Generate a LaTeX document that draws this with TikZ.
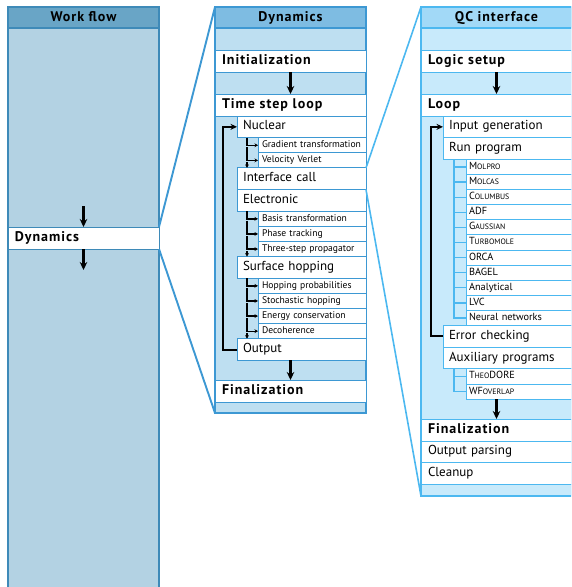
\documentclass[tikz,border=0pt]{standalone}
\usepackage{fontspec}
\setmainfont{PT Sans}
\newfontfamily\headfont{PT Sans}[LetterSpace=7]
\usetikzlibrary{arrows.meta}

% panel colours: work flow, dynamics, QC interface
\definecolor{wfline}{HTML}{3E8AB8}
\definecolor{wfhead}{HTML}{69A5C6}
\definecolor{wfbody}{HTML}{B3D2E3}
\definecolor{dyline}{HTML}{3D98D3}
\definecolor{dyhead}{HTML}{7EBCE2}
\definecolor{dybody}{HTML}{BEDFF1}
\definecolor{qcline}{HTML}{4CB8F0}
\definecolor{qchead}{HTML}{A2D9F7}
\definecolor{qcbody}{HTML}{C8EAFB}

% fake small capitals: first letter full size, rest smaller capitals
\newcommand\fsc[2]{#1{\fontsize{7.8}{9}\selectfont\MakeUppercase{#2}}}

\tikzset{
  panel/.style={draw=#1, line width=1.2pt, anchor=north west, outer sep=0pt,
    minimum width=151pt, inner sep=0pt},
  headrow/.style={panel=#1, minimum height=21pt, text height=10pt, text depth=2pt,
    font=\headfont\bfseries\fontsize{14}{16}\selectfont},
  row/.style={draw=#1, fill=white, anchor=north west, inner ysep=0pt,
    outer sep=0pt, align=left, line width=1pt},
  toprow/.style={row=#1, text width=137pt, inner xsep=7pt, minimum height=22pt,
    text height=10pt, text depth=3pt, font=\headfont\bfseries\fontsize{14}{16}\selectfont},
  plainrow/.style={row=#1, text width=137pt, inner xsep=7pt, minimum height=21.5pt,
    text height=9pt, text depth=3pt, font=\fontsize{13}{15}\selectfont},
  lvone/.style={row=#1, text width=117pt, inner xsep=6pt, minimum height=21.7pt,
    text height=9pt, text depth=3pt, font=\fontsize{13}{15}\selectfont},
  lvtwo/.style={row=#1, text width=100pt, inner xsep=4pt, minimum height=15.1pt,
    text height=6.8pt, text depth=2pt, font=\fontsize{9.6}{11}\selectfont},
  qcsub/.style={row=#1, text width=100pt, inner xsep=3pt, minimum height=15.1pt,
    text height=7pt, text depth=2pt, font=\fontsize{10.3}{12}\selectfont},
  flow/.style={draw=black, line width=2.1pt, -{Stealth[length=8pt,width=7.5pt]}},
  loopback/.style={draw=black, line width=2pt, -{Stealth[length=6.5pt,width=6pt]}},
  substep/.style={draw=black, line width=1.3pt, -{Stealth[length=3.5pt,width=3.8pt]}},
  bus/.style={draw=qcline, line width=1.3pt},
  zoomA/.style={draw=dyline, line width=1.9pt},
  zoomB/.style={draw=qcline, line width=1.6pt},
}

\begin{document}
\begin{tikzpicture}[x=1pt, y=-1pt]
\useasboundingbox (0,0) rectangle (571,587);
\clip (0,0) rectangle (571,587);

% ---------------- Work flow ----------------
\node[panel=wfline, fill=wfbody, minimum height=590pt] (wf) at (8,7) {};
\node[headrow=wfline, fill=wfhead] (wfh) at (8,7) {Work flow};
\node[toprow=wfline] (dyn) at (8,227) {Dynamics};
\coordinate (dynin) at ([yshift=21pt]dyn.north);
\coordinate (dynout) at ([yshift=-21pt]dyn.south);
\draw[flow] (dynin) -- (dyn.north);
\draw[flow] (dyn.south) -- (dynout);

% ---------------- Dynamics ----------------
\node[panel=dyline, fill=dybody, minimum height=406pt] (dy) at (215,7) {};
\node[headrow=dyline, fill=dyhead] (dyh) at (215,7) {Dynamics};
\node[toprow=dyline] (init) at (215,50) {Initialization};
\node[toprow=dyline] (tsl) at (215,94) {Time step loop};

\node[lvone=dyline] (nuc) at (237,116) {Nuclear};
\node[lvtwo=dyline] (grad) at ([xshift=21pt]nuc.south west) {Gradient transformation};
\node[lvtwo=dyline] (vv) at (grad.south west) {Velocity Verlet};
\node[lvone=dyline] (icall) at ([xshift=-21pt]vv.south west) {Interface call};
\node[lvone=dyline] (elec) at (icall.south west) {Electronic};
\node[lvtwo=dyline] (basis) at ([xshift=21pt]elec.south west) {Basis transformation};
\node[lvtwo=dyline] (phase) at (basis.south west) {Phase tracking};
\node[lvtwo=dyline] (three) at (phase.south west) {Three-step propagator};
\node[lvone=dyline] (surf) at ([xshift=-21pt]three.south west) {Surface hopping};
\node[lvtwo=dyline] (hop) at ([xshift=21pt]surf.south west) {Hopping probabilities};
\node[lvtwo=dyline] (stoch) at (hop.south west) {Stochastic hopping};
\node[lvtwo=dyline] (energy) at (stoch.south west) {Energy conservation};
\node[lvtwo=dyline] (decoh) at (energy.south west) {Decoherence};
\node[lvone=dyline] (output) at ([xshift=-21pt]decoh.south west) {Output};
\node[toprow=dyline] (dyfin) at (215,380) {Finalization};

\draw[flow] (init.south) -- (tsl.north);
\draw[flow] (dyfin.north |- output.south) -- (dyfin.north);
\draw[loopback] (output.west) -- ++(-14,0) |- (nuc.west);

% sub-step chains
\draw[substep] ([xshift=10pt]nuc.south west) |- (grad.west);
\draw[substep] ([xshift=-11pt,yshift=-2pt]grad.west) |- (vv.west);
\draw[substep] ([xshift=-11pt,yshift=-2pt]vv.west) -- ([xshift=10pt]icall.north west);

\draw[substep] ([xshift=10pt]elec.south west) |- (basis.west);
\draw[substep] ([xshift=-11pt,yshift=-2pt]basis.west) |- (phase.west);
\draw[substep] ([xshift=-11pt,yshift=-2pt]phase.west) |- (three.west);
\draw[substep] ([xshift=-11pt,yshift=-2pt]three.west) -- ([xshift=10pt]surf.north west);

\draw[substep] ([xshift=10pt]surf.south west) |- (hop.west);
\draw[substep] ([xshift=-11pt,yshift=-2pt]hop.west) |- (stoch.west);
\draw[substep] ([xshift=-11pt,yshift=-2pt]stoch.west) |- (energy.west);
\draw[substep] ([xshift=-11pt,yshift=-2pt]energy.west) |- (decoh.west);
\draw[substep] ([xshift=-11pt,yshift=-2pt]decoh.west) -- ([xshift=10pt]output.north west);

% ---------------- QC interface ----------------
\node[panel=qcline, fill=qcbody, minimum height=489pt] (qc) at (421,7) {};
\node[headrow=qcline, fill=qchead] (qch) at (421,7) {QC interface};
\node[toprow=qcline] (logic) at (421,50) {Logic setup};
\node[toprow=qcline] (loop) at (421,94) {Loop};
\node[lvone=qcline] (inputgen) at (443,116) {Input generation};
\node[lvone=qcline] (runprog) at (inputgen.south west) {Run program};
\node[qcsub=qcline] (molpro) at ([xshift=23pt]runprog.south west) {\fsc{M}{olpro}};
\node[qcsub=qcline] (molcas) at (molpro.south west) {\fsc{M}{olcas}};
\node[qcsub=qcline] (columbus) at (molcas.south west) {\fsc{C}{olumbus}};
\node[qcsub=qcline] (adf) at (columbus.south west) {ADF};
\node[qcsub=qcline] (gaussian) at (adf.south west) {\fsc{G}{aussian}};
\node[qcsub=qcline] (turbomole) at (gaussian.south west) {\fsc{T}{urbomole}};
\node[qcsub=qcline] (orca) at (turbomole.south west) {ORCA};
\node[qcsub=qcline] (bagel) at (orca.south west) {BAGEL};
\node[qcsub=qcline] (analytical) at (bagel.south west) {Analytical};
\node[qcsub=qcline] (lvc) at (analytical.south west) {LVC};
\node[qcsub=qcline] (neural) at (lvc.south west) {Neural networks};
\node[lvone=qcline] (errchk) at ([xshift=-23pt]neural.south west) {Error checking};
\node[lvone=qcline] (aux) at (errchk.south west) {Auxiliary programs};
\node[qcsub=qcline] (theodore) at ([xshift=23pt]aux.south west) {\fsc{T}{heo}DORE};
\node[qcsub=qcline] (wfo) at (theodore.south west) {WF\fsc{}{overlap}};
\node[toprow=qcline] (qcfin) at (421,419) {Finalization};
\node[plainrow=qcline] (parse) at (qcfin.south west) {Output parsing};
\node[plainrow=qcline] (cleanup) at (parse.south west) {Cleanup};

\draw[bus] ([xshift=11pt]runprog.south west) |- (neural.west);
\foreach \n in {molpro,molcas,columbus,adf,gaussian,turbomole,orca,bagel,analytical,lvc}
  \draw[bus] (\n.west) -- ++(-12,0);
\draw[bus] ([xshift=11pt]aux.south west) |- (wfo.west);
\draw[bus] (theodore.west) -- ++(-12,0);

\draw[flow] (logic.south) -- (loop.north);
\draw[flow] (qcfin.north |- wfo.south) -- (qcfin.north);
\draw[loopback] (errchk.west) -- ++(-12,0) |- (inputgen.west);

% ---------------- zoom connectors ----------------
\draw[zoomA] (dyn.north east) -- (dy.north west);
\draw[zoomA] (dyn.south east) -- (dy.south west);
\draw[zoomB] (icall.north east) -- (qc.north west);
\draw[zoomB] (icall.south east) -- (qc.south west);
\end{tikzpicture}
\end{document}
